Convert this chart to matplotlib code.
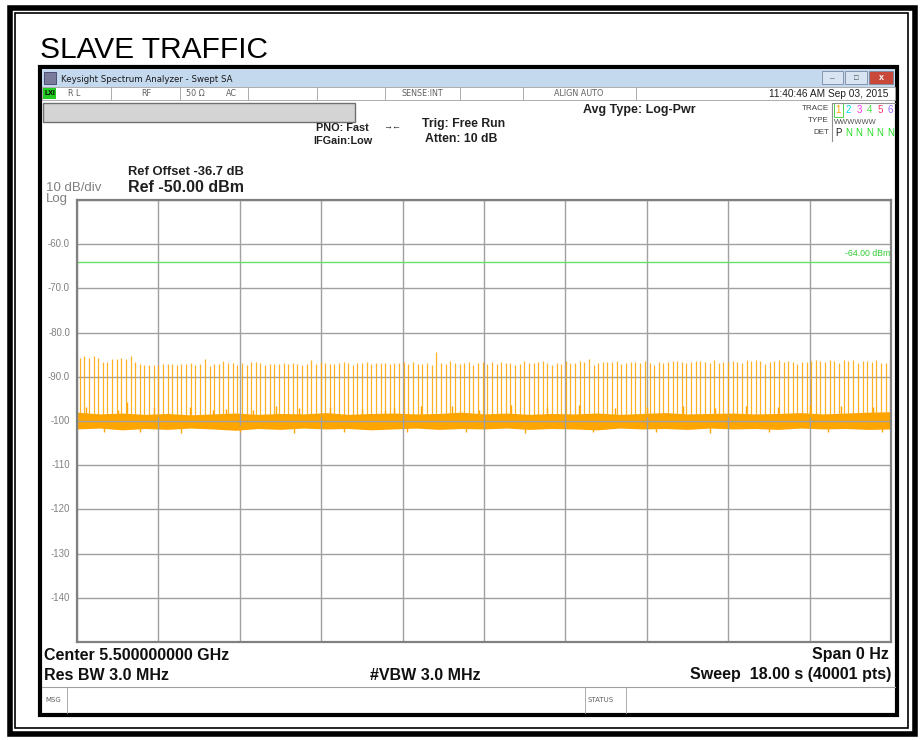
import matplotlib.pyplot as plt
from matplotlib.patches import Rectangle
import numpy as np

plt.rcParams['font.family'] = ['Liberation Sans', 'DejaVu Sans']

# sweep: 0 .. 18 s, reference -50 dBm, 10 dB/div
sweep_s = 18.0
ref_dbm = -50.0
y_labels = ["-60.0", "-70.0", "-80.0", "-90.0", "-100", "-110", "-120", "-130", "-140"]
y_label_vals = [-60, -70, -80, -90, -100, -110, -120, -130, -140]
limit_dbm = -64.0

# beacon spikes: times (s) and peak levels (dBm)
spike_t = [
    0.06, 0.16, 0.27, 0.37, 0.47, 0.57, 0.67, 0.78, 0.88, 0.98,
    1.08, 1.19, 1.29, 1.39, 1.49, 1.60, 1.70, 1.80, 1.90, 2.01,
    2.11, 2.21, 2.31, 2.42, 2.52, 2.62, 2.72, 2.83, 2.93, 3.03,
    3.13, 3.23, 3.34, 3.44, 3.54, 3.64, 3.75, 3.85, 3.95, 4.05,
    4.16, 4.26, 4.36, 4.46, 4.57, 4.67, 4.77, 4.87, 4.98, 5.08,
    5.18, 5.28, 5.39, 5.49, 5.59, 5.69, 5.79, 5.90, 6.00, 6.10,
    6.20, 6.31, 6.41, 6.51, 6.61, 6.72, 6.82, 6.92, 7.02, 7.13,
    7.23, 7.33, 7.43, 7.53, 7.64, 7.74, 7.84, 7.94, 8.05, 8.15,
    8.25, 8.35, 8.46, 8.56, 8.66, 8.76, 8.87, 8.97, 9.07, 9.17,
    9.28, 9.38, 9.48, 9.58, 9.69, 9.79, 9.89, 9.99, 10.10, 10.20,
    10.30, 10.40, 10.51, 10.61, 10.71, 10.81, 10.91, 11.02, 11.12, 11.22,
    11.32, 11.43, 11.53, 11.63, 11.73, 11.84, 11.94, 12.04, 12.14, 12.25,
    12.35, 12.45, 12.55, 12.66, 12.76, 12.86, 12.96, 13.06, 13.17, 13.27,
    13.37, 13.47, 13.58, 13.68, 13.78, 13.88, 13.99, 14.09, 14.19, 14.29,
    14.40, 14.50, 14.60, 14.70, 14.81, 14.91, 15.01, 15.11, 15.22, 15.32,
    15.42, 15.52, 15.63, 15.73, 15.83, 15.93, 16.03, 16.14, 16.24, 16.34,
    16.44, 16.55, 16.65, 16.75, 16.85, 16.96, 17.06, 17.16, 17.26, 17.37,
    17.47, 17.57, 17.67, 17.78, 17.88, 17.98,
]
spike_dbm = [
    -85.8, -85.4, -85.7, -85.4, -85.8, -86.6, -86.6, -85.9, -85.9, -85.8,
    -85.9, -85.3, -86.7, -87.2, -87.4, -87.4, -87.3, -87.4, -87.2, -87.2,
    -87.2, -87.4, -87.2, -87.1, -86.9, -87.4, -87.2, -86.0, -87.6, -87.2,
    -87.0, -86.4, -86.9, -86.8, -87.3, -86.9, -87.3, -86.6, -86.6, -86.9,
    -87.3, -87.1, -87.2, -87.1, -86.9, -87.2, -86.8, -87.0, -87.3, -87.0,
    -86.3, -87.1, -86.6, -86.9, -87.2, -87.0, -86.9, -86.6, -86.8, -87.4,
    -86.8, -86.9, -86.6, -87.2, -86.9, -86.9, -86.8, -87.0, -86.9, -86.8,
    -86.6, -87.1, -86.7, -87.0, -87.0, -86.8, -87.3, -84.4, -86.9, -87.0,
    -86.5, -86.9, -87.2, -86.8, -86.7, -87.3, -86.9, -86.7, -87.0, -86.6,
    -87.0, -86.6, -86.8, -86.9, -87.4, -87.0, -86.5, -86.9, -86.8, -86.7,
    -86.4, -86.9, -87.3, -86.8, -87.0, -86.4, -86.8, -86.9, -86.5, -86.6,
    -86.0, -87.4, -86.8, -86.6, -86.7, -86.6, -86.5, -87.1, -86.8, -86.7,
    -86.6, -86.9, -86.4, -86.8, -87.3, -86.7, -86.8, -86.6, -86.4, -86.5,
    -86.7, -86.9, -86.6, -86.5, -86.4, -86.6, -86.9, -86.3, -86.8, -86.7,
    -86.6, -86.4, -86.7, -86.9, -86.3, -86.5, -86.3, -86.5, -87.0, -86.6,
    -86.5, -86.3, -86.6, -86.4, -86.7, -87.2, -86.6, -86.7, -86.4, -86.3,
    -86.4, -86.6, -86.3, -86.4, -86.8, -86.3, -86.5, -86.3, -86.9, -86.5,
    -86.4, -86.6, -86.3, -86.8, -86.9, -86.5,
]

# noise floor envelope read every 0.5 s
noise_t = [0.0, 0.5, 1.0, 1.5, 2.0, 2.5, 3.0, 3.5, 4.0, 4.5, 5.0, 5.5, 6.0,
           6.5, 7.0, 7.5, 8.0, 8.5, 9.0, 9.5, 10.0, 10.5, 11.0, 11.5, 12.0,
           12.5, 13.0, 13.5, 14.0, 14.5, 15.0, 15.5, 16.0, 16.5, 17.0, 17.5, 18.0]
noise_hi = [-98.0, -98.4, -98.2, -98.5, -98.3, -98.6, -98.4, -98.2, -98.5, -98.3,
            -98.4, -98.1, -98.5, -98.3, -98.2, -98.4, -98.3, -98.0, -98.4, -98.2,
            -98.5, -98.3, -98.4, -98.2, -98.5, -98.3, -98.1, -98.4, -98.3, -98.2,
            -98.4, -98.3, -98.1, -98.4, -98.2, -98.0, -97.9]
noise_lo = [-101.8, -101.6, -102.0, -101.7, -101.9, -101.6, -101.8, -102.1, -101.7, -101.9,
            -101.6, -101.8, -101.7, -102.0, -101.8, -101.6, -101.9, -101.7, -101.8, -101.6,
            -101.9, -101.7, -101.8, -102.0, -101.6, -101.8, -101.7, -101.9, -101.6, -101.8,
            -101.7, -101.9, -101.6, -101.8, -101.7, -101.9, -101.8]
# isolated noise bursts above / below the floor
burst_t = [0.2, 0.9, 1.1, 1.7, 2.5, 3.0, 3.3, 3.9, 4.4, 4.9, 5.6, 6.3, 6.8, 7.0,
           7.6, 8.3, 8.9, 9.6, 10.4, 11.1, 11.9, 12.6, 13.4, 14.1, 14.8, 15.5,
           16.2, 16.9, 17.6]
burst_dbm = [-96.8, -97.4, -95.6, -97.0, -96.9, -97.6, -97.2, -97.5, -96.5, -97.1,
             -96.8, -97.3, -97.5, -96.9, -96.7, -96.6, -97.4, -96.4, -96.9, -96.3,
             -97.0, -96.8, -96.5, -97.1, -96.6, -96.8, -96.4, -96.7, -96.9]
dip_t = [0.6, 1.4, 2.3, 3.6, 4.8, 5.9, 7.3, 8.6, 9.9, 11.4, 12.8, 14.0, 15.3,
         16.6, 17.8]
dip_dbm = [-102.6, -102.4, -102.8, -102.5, -102.7, -102.4, -102.6, -102.5,
           -102.8, -102.4, -102.6, -102.7, -102.5, -102.6, -102.4]

W, H = 923, 740
fig = plt.figure(figsize=(W / 100, H / 100), dpi=100)
fig.patch.set_facecolor('white')

# screen overlay in pixel coordinates
scr = fig.add_axes([0, 0, 1, 1])
scr.set_xlim(0, W)
scr.set_ylim(H, 0)
scr.axis('off')

def rect(x0, y0, x1, y1, **kw):
    scr.add_patch(Rectangle((x0, y0), x1 - x0, y1 - y0, **kw))

# outer page border (thick + thin)
rect(9.5, 7.5, 915, 734, fill=False, ec='black', lw=4.0)
rect(15, 13, 908, 728, fill=False, ec='black', lw=1.2)

scr.text(40, 58, "SLAVE TRAFFIC", fontsize=21.5, color='black', va='baseline')

# window frame
rect(40, 67, 897, 715, fc='white', ec='black', lw=3.0)
# title bar
rect(42, 69, 895, 87, fc='#C4D8EE', ec='none')
rect(44, 72, 56, 84, fc='#7A7A9A', ec='#40406A', lw=0.6)
scr.text(61, 79, "Keysight Spectrum Analyzer - Swept SA", fontsize=6.2, va='center',
         family='DejaVu Sans', color='#1A1A1A')
for x0, x1, c in [(822, 843, '#D8E4F2'), (845, 867, '#D8E4F2'), (869, 893, '#C8483A')]:
    rect(x0, 71, x1, 84, fc=c, ec='#7A8AA0', lw=0.6)
scr.text(832.5, 78.5, "\u2013", ha='center', va='center', fontsize=6, color='#404040')
scr.text(856, 78, "\u25A1", ha='center', va='center', fontsize=5.5, color='#404040')
scr.text(881, 78, "x", ha='center', va='center', fontsize=6.5, color='white', weight='bold')

# status row
rect(42, 87, 895, 100, fc='white', ec='#A0A0A0', lw=0.6)
for xv in [111, 180, 248, 317, 385, 460, 523, 636]:
    scr.plot([xv, xv], [87, 100], color='#A0A0A0', lw=0.6)
rect(43, 88, 56, 99, fc='#22CC22', ec='none')
scr.text(49.5, 93.5, "LXI", ha='center', va='center', fontsize=5, color='black', weight='bold')
status = [(68, "R L"), (141, "RF"), (186, "50 \u03A9"), (226, "AC"),
          (402, "SENSE:INT"), (554, "ALIGN AUTO")]
for xv, s in status:
    scr.text(xv, 93.5, s, va='center', fontsize=5.8, color='#606060', family='DejaVu Sans')
scr.text(888, 94, "11:40:46 AM Sep 03, 2015", ha='right', va='center', fontsize=7.3,
         color='#202020')

# gray message bar
rect(43, 103, 355, 122, fc='#D4D4D4', ec='#707070', lw=1.0)

bold = dict(weight='bold', color='#202020')
scr.text(369, 128, "PNO: Fast", ha='right', va='center', fontsize=7.8, **bold)
scr.text(373, 141, "IFGain:Low", ha='right', va='center', fontsize=7.8, **bold)
scr.text(392, 127, "\u2192\u2190", ha='center', va='center', fontsize=6.5, color='#202020')
scr.text(422, 124, "Trig: Free Run", va='center', fontsize=8.8, **bold)
scr.text(425, 139, "Atten: 10 dB", va='center', fontsize=8.8, **bold)
scr.text(583, 110, "Avg Type: Log-Pwr", va='center', fontsize=9, **bold)

# trace / type / det block
scr.text(829, 109, "TRACE", ha='right', va='center', fontsize=5.8, color='#404040')
scr.text(829, 121, "TYPE", ha='right', va='center', fontsize=5.8, color='#404040')
scr.text(829, 133, "DET", ha='right', va='center', fontsize=5.8, color='#404040')
scr.plot([832, 832, 895], [141, 103, 103], color='#909090', lw=0.8)
trace_cols = ['#FFA500', '#00DDEE', '#FF33EE', '#44DD44', '#FF3366', '#9966FF']
for i, c in enumerate(trace_cols):
    scr.text(838 + i * 10.5, 110, str(i + 1), ha='center', va='center', fontsize=7, color=c)
rect(834, 103, 843, 117, fill=False, ec='#33CC33', lw=0.6)
scr.text(834, 122, "WWWWWW", va='center', fontsize=5.4, color='#505050')
scr.text(838, 133, "P", ha='center', va='center', fontsize=7, color='#202020')
for i in range(5):
    scr.text(848.5 + i * 10.5, 133, "N", ha='center', va='center', fontsize=7, color='#22DD22')

scr.text(128, 172, "Ref Offset -36.7 dB", va='center', fontsize=9.3, **bold)
scr.text(128, 187, "Ref -50.00 dBm", va='center', fontsize=11.5, **bold)
scr.text(46, 188, "10 dB/div", va='center', fontsize=9.5, color='#808080')
scr.text(46, 199, "Log", va='center', fontsize=9.5, color='#808080')

for v, s in zip(y_label_vals, y_labels):
    yp = 200 + (ref_dbm - v) * 4.42
    scr.text(70, yp, s, ha='right', va='center', fontsize=6.9, color='#808080')

# bottom annotations
nb = dict(weight='bold', color='#101010', fontsize=11.5)
scr.text(44, 655, "Center 5.500000000 GHz", va='center', **nb)
scr.text(889, 655, "Span 0 Hz", ha='right', va='center', **nb)
scr.text(44, 675, "Res BW 3.0 MHz", va='center', **nb)
scr.text(370, 675, "#VBW 3.0 MHz", va='center', **nb)
scr.text(891, 675, "Sweep  18.00 s (40001 pts)", ha='right', va='center', **nb)

# message / status strip
scr.plot([42, 895], [687, 687], color='#A0A0A0', lw=0.8)
for xv in [67, 585, 626]:
    scr.plot([xv, xv], [687, 713], color='#A0A0A0', lw=0.6)
scr.text(45, 700, "MSG", va='center', fontsize=5, color='#606060', family='DejaVu Sans')
scr.text(587, 700, "STATUS", va='center', fontsize=5, color='#606060', family='DejaVu Sans')

# data axes in the graticule
ax = fig.add_axes([77 / W, 1 - 642 / H, 814 / W, 442 / H])
ax.set_xlim(0, sweep_s)
ax.set_ylim(ref_dbm - 100, ref_dbm)
ax.set_xticks(np.linspace(0, sweep_s, 11))
ax.set_yticks(np.arange(ref_dbm - 100, ref_dbm + 1, 10))
ax.grid(True, color='#A0A0A0', lw=1.0)
ax.tick_params(length=0, labelleft=False, labelbottom=False)
for sp in ax.spines.values():
    sp.set_color('#808080')
    sp.set_linewidth(1.6)
ax.set_facecolor('white')

orange = '#FFA500'
ax.axhline(limit_dbm, color='#66E066', lw=1.0)
ax.text(sweep_s - 0.02, limit_dbm + 0.8, "-64.00 dBm", ha='right', va='bottom',
        fontsize=6.3, color='#33CC33')

ax.fill_between(noise_t, noise_lo, noise_hi, color=orange, lw=0)
ax.vlines(burst_t, -99.0, burst_dbm, color=orange, lw=1.0)
ax.vlines(dip_t, dip_dbm, -101.0, color=orange, lw=1.0)
ax.vlines(spike_t, -99.0, spike_dbm, color=orange, lw=0.9, alpha=0.85)

fig.savefig("out.png", dpi=100)
